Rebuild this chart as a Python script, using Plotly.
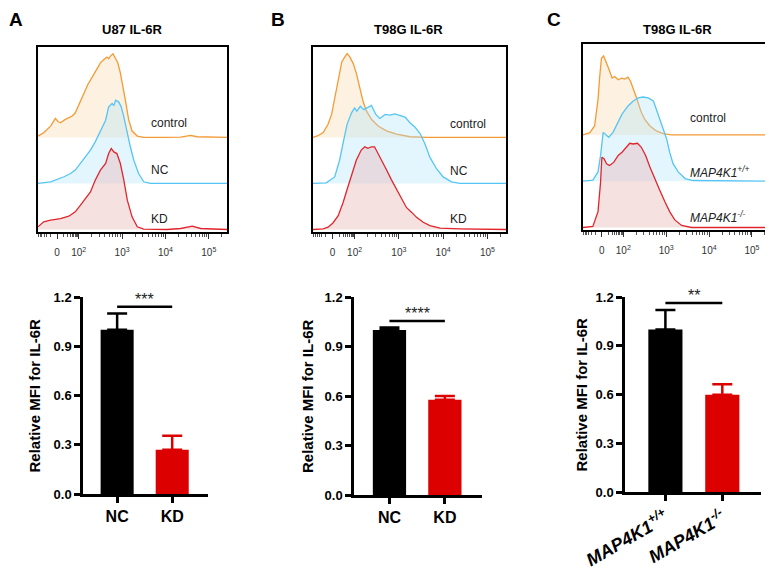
import math
import plotly.graph_objects as go

FONT = "Arial, Liberation Sans, sans-serif"

# ---- flow histograms: x in decade units (2 = 10^2), y in % of max ----
a_ctrl_x = [1.06, 1.19, 1.35, 1.46, 1.52, 1.58, 1.69, 1.77, 1.85, 1.92, 2.04, 2.12, 2.21, 2.31, 2.42, 2.50, 2.58, 2.65,
            2.69, 2.73, 2.79, 2.82, 2.85, 2.90, 2.96, 3.02, 3.08, 3.15, 3.23, 3.35, 3.50, 4.04, 4.35, 4.58, 4.73, 5.42]
a_ctrl_y = [1.6, 5.6, 13.5, 22.7, 19.0, 17.5, 21.5, 23.5, 25.5, 29.4, 43.4, 51.3, 63.2, 72.0, 81.1, 89.1, 93.1, 95.9,
            94.0, 97.1, 100, 96.5, 95.1, 89.1, 77.2, 61.3, 43.4, 21.5, 7.6, 1.6, 0, 0, 0.4, 2.4, 0.8, 0]
a_nc_x = [1.06, 1.35, 1.66, 1.81, 1.92, 2.04, 2.15, 2.27, 2.38, 2.50, 2.62, 2.69, 2.77, 2.81, 2.85, 2.92, 2.98, 3.04,
          3.12, 3.19, 3.27, 3.38, 3.50, 3.65, 5.42]
a_nc_y = [0, 2.0, 8.0, 11.9, 15.9, 23.9, 31.8, 39.8, 49.7, 61.7, 75.6, 91.5, 95.5, 93.0, 99.4, 97.5, 91.5, 79.6,
          59.7, 43.8, 27.8, 11.9, 2.0, 0, 0]
a_kd_x = [1.06, 1.19, 1.35, 1.58, 1.77, 1.92, 2.04, 2.15, 2.27, 2.38, 2.50, 2.62, 2.69, 2.75, 2.81, 2.88, 2.96, 3.04,
          3.12, 3.23, 3.35, 3.50, 4.04, 4.35, 4.62, 4.81, 5.42]
a_kd_y = [3.2, 9.1, 11.1, 13.1, 15.9, 21.1, 29.0, 37.0, 44.9, 58.9, 70.8, 78.8, 90.7, 96.7, 92.7, 90.7, 78.8, 58.9,
          35.0, 15.1, 3.2, 0.4, 0, 1.2, 4.0, 1.2, 0]

b_ctrl_x = [1.06, 1.17, 1.29, 1.40, 1.48, 1.55, 1.63, 1.71, 1.78, 1.83, 1.89, 1.97, 2.04, 2.12, 2.19, 2.27, 2.38, 2.53,
            2.72, 2.95, 3.25, 3.63, 5.42]
b_ctrl_y = [0, 2.0, 5.9, 15.7, 27.5, 47.1, 70.6, 90.2, 96.1, 100, 96.1, 88.2, 76.5, 58.8, 43.1, 31.4, 21.6, 13.7,
            7.8, 3.9, 0.8, 0, 0]
b_nc_x = [1.06, 1.36, 1.55, 1.66, 1.75, 1.83, 1.93, 2.00, 2.05, 2.13, 2.21, 2.28, 2.38, 2.48, 2.57, 2.69, 2.80, 2.91,
          3.02, 3.14, 3.25, 3.36, 3.48, 3.59, 3.70, 3.85, 4.00, 4.19, 4.38, 5.42]
b_nc_y = [0, 0.8, 7.8, 27.5, 51.0, 70.6, 84.3, 90.2, 86.3, 92.2, 88.2, 90.2, 93.3, 82.4, 77.6, 82.4, 81.6, 83.1,
          81.2, 79.2, 72.5, 67.5, 59.6, 47.1, 31.4, 17.6, 7.8, 2.0, 0, 0]
b_kd_x = [1.06, 1.29, 1.40, 1.51, 1.63, 1.74, 1.83, 1.93, 2.04, 2.15, 2.23, 2.30, 2.38, 2.45, 2.53, 2.60, 2.72, 2.83,
          2.95, 3.06, 3.17, 3.29, 3.40, 3.55, 3.70, 3.93, 4.38, 5.42]
b_kd_y = [0, 0.8, 2.7, 7.8, 16.5, 32.2, 47.8, 65.5, 83.1, 94.9, 98.8, 96.9, 98.8, 98.8, 91.0, 83.1, 71.4, 59.6,
          47.8, 36.1, 26.3, 20.4, 14.5, 8.6, 4.7, 1.6, 0.8, 0]

c_ctrl_x = [1.06, 1.22, 1.33, 1.41, 1.45, 1.49, 1.54, 1.58, 1.64, 1.74, 1.80, 1.88, 1.96, 2.03, 2.11, 2.17, 2.23, 2.31,
            2.41, 2.50, 2.62, 2.77, 2.93, 3.12, 5.42]
c_ctrl_y = [0, 2.7, 10.6, 42.0, 69.4, 91.0, 93.7, 89.0, 81.2, 67.5, 69.4, 65.5, 67.5, 66.3, 68.6, 63.5, 55.7, 43.9,
            28.2, 18.4, 10.6, 4.7, 1.6, 0, 0]
c_wt_x = [1.06, 1.29, 1.41, 1.47, 1.53, 1.58, 1.66, 1.76, 1.86, 1.97, 2.11, 2.23, 2.35, 2.46, 2.58, 2.70, 2.77, 2.85,
          2.93, 3.01, 3.08, 3.16, 3.28, 3.44, 3.63, 5.42]
c_wt_y = [0, 1.2, 11.0, 30.6, 58.0, 56.0, 52.2, 58.0, 67.8, 79.6, 89.4, 95.3, 99.0, 100, 99.0, 95.3, 85.5, 73.7,
          62.0, 50.2, 34.5, 20.8, 11.0, 3.1, 0.8, 0]
c_ko_x = [1.06, 1.29, 1.41, 1.47, 1.50, 1.55, 1.61, 1.68, 1.78, 1.88, 1.97, 2.07, 2.15, 2.23, 2.33, 2.42, 2.52, 2.62,
          2.73, 2.85, 2.97, 3.08, 3.20, 3.36, 3.59, 5.42]
c_ko_y = [0, 1.2, 18.8, 54.1, 83.5, 81.6, 75.7, 73.7, 77.6, 85.5, 89.4, 95.3, 100, 99.2, 100, 95.3, 85.5, 71.8,
          58.0, 44.3, 30.6, 18.8, 9.0, 2.4, 0, 0]

hist_tickvals = [1.5, 2, 3, 4, 5]
hist_ticktext = ["0", "10<sup>2</sup>", "10<sup>3</sup>", "10<sup>4</sup>", "10<sup>5</sup>"]

# ---- bar charts ----
ab_groups = ["NC", "KD"]
c_groups = ["<i>MAP4K1<sup>+/+</sup></i>", "<i>MAP4K1<sup>-/-</sup></i>"]
a_mean = [1.0, 0.27]
a_err = [0.10, 0.085]
b_mean = [1.0, 0.578]
b_err = [0.015, 0.022]
c_mean = [1.0, 0.598]
c_err = [0.12, 0.065]
sig_y = [1.14, 1.055, 1.163]
sig_text = ["***", "****", "**"]

lane_offset = [110, 55, 0]
line_cols = ["#F49B36", "#56C5F4", "#E0262C"]
fill_cols = ["rgba(250,215,170,0.35)", "rgba(175,225,248,0.35)", "rgba(232,180,180,0.4)"]
bar_cols = ["#000000", "#DD0000"]

# page body keeps its default 8px margin, so positions are shifted back by it
W, H, OFF = 773, 570, 8


def fx(p):
    return (p - OFF) / W


def fy(p):
    return 1 - (p - OFF) / H


def dx(a, b):
    return [fx(a), fx(b)]


def dy(top, bottom):
    return [fy(bottom), fy(top)]


fig = go.Figure()

hist_panels = [
    ("x", "y", [(a_ctrl_x, a_ctrl_y), (a_nc_x, a_nc_y), (a_kd_x, a_kd_y)]),
    ("x2", "y2", [(b_ctrl_x, b_ctrl_y), (b_nc_x, b_nc_y), (b_kd_x, b_kd_y)]),
    ("x3", "y3", [(c_ctrl_x, c_ctrl_y), (c_wt_x, c_wt_y), (c_ko_x, c_ko_y)]),
]
for xa, ya, curves in hist_panels:
    for i, (xs, ys) in enumerate(curves):
        off = lane_offset[i]
        yy = [off + v for v in ys]
        fig.add_trace(go.Scatter(x=[xs[0]] + xs + [xs[-1]], y=[off] + yy + [off], fill="toself",
                                 fillcolor=fill_cols[i], mode="lines", line=dict(width=0),
                                 hoverinfo="skip", xaxis=xa, yaxis=ya))
        fig.add_trace(go.Scatter(x=xs, y=yy, mode="lines", line=dict(color=line_cols[i], width=1.3),
                                 hoverinfo="skip", xaxis=xa, yaxis=ya))

bar_panels = [
    ("x4", "y4", ab_groups, a_mean, a_err, sig_y[0], sig_text[0], 34, 395.5),
    ("x5", "y5", ab_groups, b_mean, b_err, sig_y[1], sig_text[1], 307, 396),
    ("x6", "y6", c_groups, c_mean, c_err, sig_y[2], sig_text[2], 581, 394.5),
]
for xa, ya, groups, means, errs, sy, st, tx, ty in bar_panels:
    for i in range(len(groups)):
        fig.add_trace(go.Bar(x=[i], y=[means[i]], width=0.6, marker=dict(color=bar_cols[i], line=dict(width=0)),
                             error_y=dict(type="data", symmetric=False, array=[errs[i]], arrayminus=[0],
                                          color=bar_cols[i], thickness=2.5, width=10),
                             xaxis=xa, yaxis=ya))
    fig.add_trace(go.Scatter(x=[0, len(groups) - 1], y=[sy, sy], mode="lines",
                             line=dict(color="black", width=2.5), xaxis=xa, yaxis=ya))
    fig.add_annotation(x=0.5, y=sy, xref=xa, yref=ya, text=st, showarrow=False, yanchor="bottom",
                       font=dict(size=16, color="#222", family=FONT), yshift=-3)
    # y axis title
    fig.add_annotation(x=fx(tx), y=fy(ty), xref="paper", yref="paper", text="<b>Relative MFI for IL-6R</b>",
                       textangle=-90, showarrow=False, xanchor="center", yanchor="middle",
                       font=dict(size=15, color="black", family=FONT))

minor_vals = []
for d in range(2, 6):
    for k in range(2, 10):
        minor_vals.append(d + math.log10(k))
for k in range(2, 10):
    minor_vals.append(1.5 + 0.5 * math.log10(k))
    minor_vals.append(1.5 - 0.5 * math.log10(k))

hist_x = dict(range=[1.06, 5.42], showline=True, mirror=True, linecolor="black", linewidth=1.5,
              ticks="outside", tickvals=hist_tickvals, ticktext=hist_ticktext, ticklen=5, tickwidth=1,
              tickcolor="#333", tickfont=dict(size=10, color="#333", family=FONT), ticklabelstandoff=5,
              minor=dict(tickmode="array", tickvals=minor_vals, ticks="outside", ticklen=3, tickcolor="#555"),
              showgrid=False, zeroline=False, automargin=False)
hist_y = dict(range=[-3, 218], showline=True, mirror=True, linecolor="black", linewidth=1.5,
              showticklabels=False, ticks="", showgrid=False, zeroline=False, automargin=False)

layout = dict(width=W, height=H, margin=dict(l=0, r=0, t=0, b=0), paper_bgcolor="white",
              plot_bgcolor="white", showlegend=False, barmode="overlay", font=dict(family=FONT, color="black"))
layout["xaxis"] = dict(hist_x, domain=dx(38, 227), anchor="y")
layout["yaxis"] = dict(hist_y, domain=dy(47, 232), anchor="x")
layout["xaxis2"] = dict(hist_x, domain=dx(313, 506), anchor="y2")
layout["yaxis2"] = dict(hist_y, domain=dy(47, 232), anchor="x2")
layout["xaxis3"] = dict(hist_x, domain=dx(583, 770), anchor="y3")
layout["yaxis3"] = dict(hist_y, domain=dy(44, 230), anchor="x3")

bar_x_common = dict(showline=True, linecolor="black", linewidth=2.5, ticks="outside", ticklen=6, tickwidth=2.5,
                    tickcolor="black", tickvals=[0, 1], showgrid=False, zeroline=False, automargin=False)
bar_y_common = dict(range=[0, 1.2], showline=True, linecolor="black", linewidth=2.5, ticks="outside", ticklen=6,
                    tickwidth=2.5, tickcolor="black", tickvals=[0, 0.3, 0.6, 0.9, 1.2], tickformat=".1f",
                    tickfont=dict(size=13, family=FONT, weight="bold"), showgrid=False, zeroline=False,
                    automargin=False)

layout["xaxis4"] = dict(bar_x_common, range=[-0.62, 1.65], ticktext=[f"<b>{g}</b>" for g in ab_groups],
                        tickfont=dict(size=16, family=FONT), domain=dx(83, 208), anchor="y4")
layout["yaxis4"] = dict(bar_y_common, domain=dy(297, 494), anchor="x4")
layout["xaxis5"] = dict(bar_x_common, range=[-0.64, 1.67], ticktext=[f"<b>{g}</b>" for g in ab_groups],
                        tickfont=dict(size=16, family=FONT), domain=dx(354, 482), anchor="y5")
layout["yaxis5"] = dict(bar_y_common, domain=dy(297, 495), anchor="x5")
layout["xaxis6"] = dict(bar_x_common, range=[-0.71, 1.68], ticktext=[f"<b>{g}</b>" for g in c_groups],
                        tickfont=dict(size=18, family=FONT), tickangle=-30, domain=dx(625, 761), anchor="y6")
layout["yaxis6"] = dict(bar_y_common, domain=dy(297, 492), anchor="x6")

fig.update_layout(layout)

# panel letters and titles
for letter, px, py in [("A", 16, 20), ("B", 278, 20), ("C", 554, 20)]:
    fig.add_annotation(x=fx(px), y=fy(py), xref="paper", yref="paper", text=f"<b>{letter}</b>",
                       showarrow=False, xanchor="center", yanchor="middle", font=dict(size=19, family=FONT))
for title, px in [("U87 IL-6R", 132), ("T98G IL-6R", 408), ("T98G IL-6R", 677)]:
    fig.add_annotation(x=fx(px), y=fy(29), xref="paper", yref="paper", text=f"<b>{title}</b>",
                       showarrow=False, xanchor="center", yanchor="middle", font=dict(size=13, family=FONT))

# lane labels in histograms
hist_labels = [
    ("x", "y", 3.62, ["control", "NC", "KD"], [127, 71.5, 12]),
    ("x2", "y2", 4.12, ["control", "NC", "KD"], [126, 70, 13]),
    ("x3", "y3", 3.5, ["control", "<i>MAP4K1<sup>+/+</sup></i>", "<i>MAP4K1<sup>-/-</sup></i>"], [130, 66, 13]),
]
for xa, ya, lx, texts, ys in hist_labels:
    for t, ly in zip(texts, ys):
        fig.add_annotation(x=lx, y=ly, xref=xa, yref=ya, text=t, showarrow=False, xanchor="left",
                           font=dict(size=12, color="#222", family=FONT))

fig.write_html("out.html")
